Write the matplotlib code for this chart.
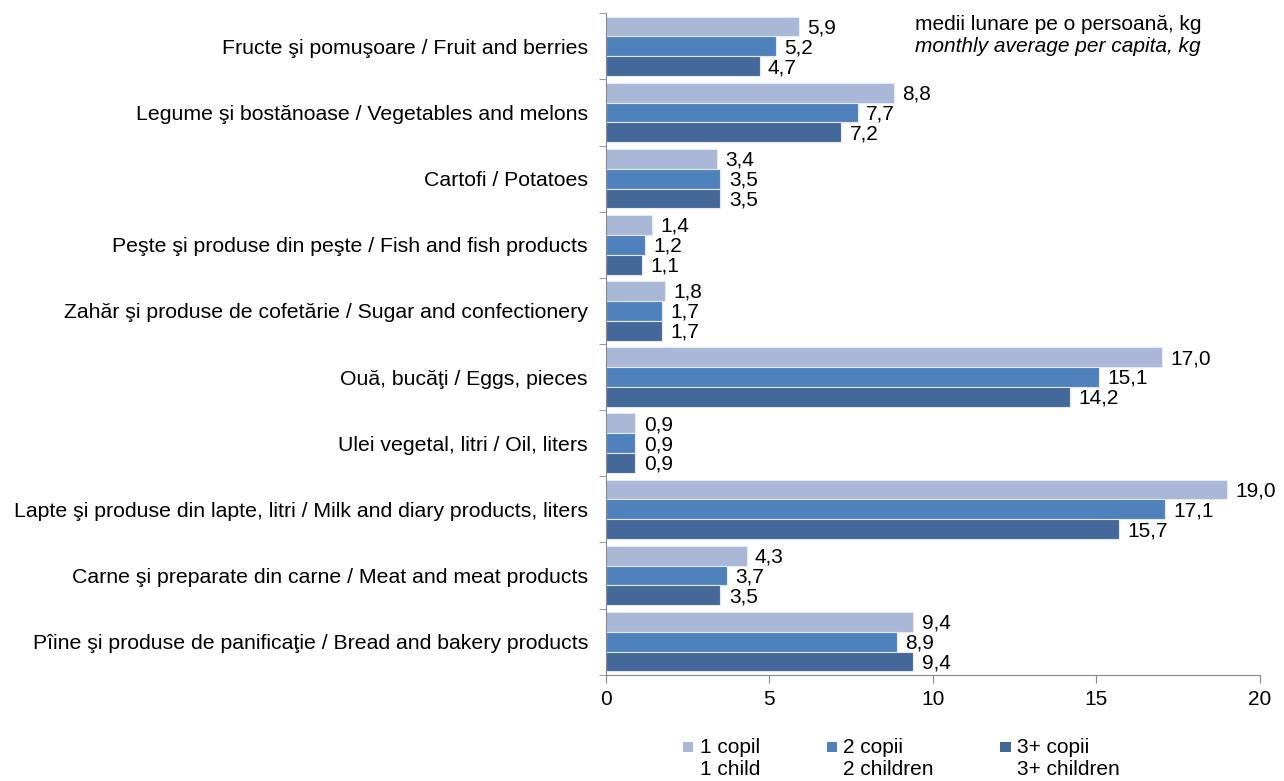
import numpy as np
import matplotlib
matplotlib.use("Agg")
import matplotlib.pyplot as plt
from matplotlib.patches import Rectangle, Patch
from matplotlib.legend_handler import HandlerPatch

plt.rcParams['font.family'] = ['Liberation Sans', 'DejaVu Sans']

# Data (top to bottom as shown)
categories = [
    "Fructe şi pomuşoare / Fruit and berries",
    "Legume şi bostănoase / Vegetables and melons",
    "Cartofi / Potatoes",
    "Peşte şi produse din peşte / Fish and fish products",
    "Zahăr şi produse de cofetărie / Sugar and confectionery",
    "Ouă, bucăţi / Eggs, pieces",
    "Ulei vegetal, litri / Oil, liters",
    "Lapte şi produse din lapte, litri / Milk and diary products, liters",
    "Carne şi preparate din carne / Meat and meat products",
    "Pîine şi produse de panificaţie / Bread and bakery products",
]
one_child = [5.9, 8.8, 3.4, 1.4, 1.8, 17.0, 0.9, 19.0, 4.3, 9.4]
two_children = [5.2, 7.7, 3.5, 1.2, 1.7, 15.1, 0.9, 17.1, 3.7, 8.9]
three_children = [4.7, 7.2, 3.5, 1.1, 1.7, 14.2, 0.9, 15.7, 3.5, 9.4]
series_labels = ["1 copil\n1 child", "2 copii\n2 children", "3+ copii\n3+ children"]
colors = ["#A9B8D6", "#4F81BD", "#44689A"]

FS = 15

fig = plt.figure(figsize=(12.84, 7.81), dpi=100)
ax = fig.add_axes([0.472, 0.136, 0.509, 0.847])

y = np.arange(len(categories))
h = 0.3
series = [one_child, two_children, three_children]
for i, (vals, col) in enumerate(zip(series, colors)):
    pos = y + (i - 1) * h
    ax.barh(pos, vals, height=h, color=col, edgecolor="#e4e9f2", linewidth=0.8)
    for p, v in zip(pos, vals):
        ax.annotate(f"{v:.1f}".replace(".", ","), (v, p), xytext=(6, -1),
                    textcoords="offset points", va="center", ha="left", fontsize=FS)

ax.set_ylim(len(categories) - 0.5, -0.5)
ax.set_xlim(0, 20)
ax.set_xticks([0, 5, 10, 15, 20])
ax.set_yticks(y)
ax.set_yticklabels(categories, fontsize=15.3)
ax.set_yticks(np.arange(len(categories) + 1) - 0.5, minor=True)
ax.tick_params(axis="y", which="major", length=0, pad=13)
ax.tick_params(axis="y", which="minor", length=5, color="#888888", direction="out")
ax.tick_params(axis="x", length=6, color="#888888", labelsize=FS, pad=5)
for s in ["top", "right"]:
    ax.spines[s].set_visible(False)
for s in ["left", "bottom"]:
    ax.spines[s].set_color("#888888")

fig.text(0.713, 0.968, "medii lunare pe o persoană, kg", fontsize=FS, va="center")
fig.text(0.713, 0.940, "monthly average per capita, kg", fontsize=FS, va="center", style="italic")


def shifted_square(legend, orig_handle, xdescent, ydescent, width, height, fontsize):
    s = 0.5 * fontsize
    return Rectangle((width - s - xdescent, -ydescent + height / 2 + 0.3 * fontsize), s, s)


handles = [Patch(facecolor=c, edgecolor="none") for c in colors]
fig.legend(handles, series_labels, loc="center", bbox_to_anchor=(0.702, 0.029), ncol=3,
           frameon=False, fontsize=FS, handlelength=0.5, handletextpad=0.3,
           columnspacing=3.2, labelspacing=0.2,
           handler_map={Patch: HandlerPatch(patch_func=shifted_square)})

fig.savefig("out.png", dpi=100)
